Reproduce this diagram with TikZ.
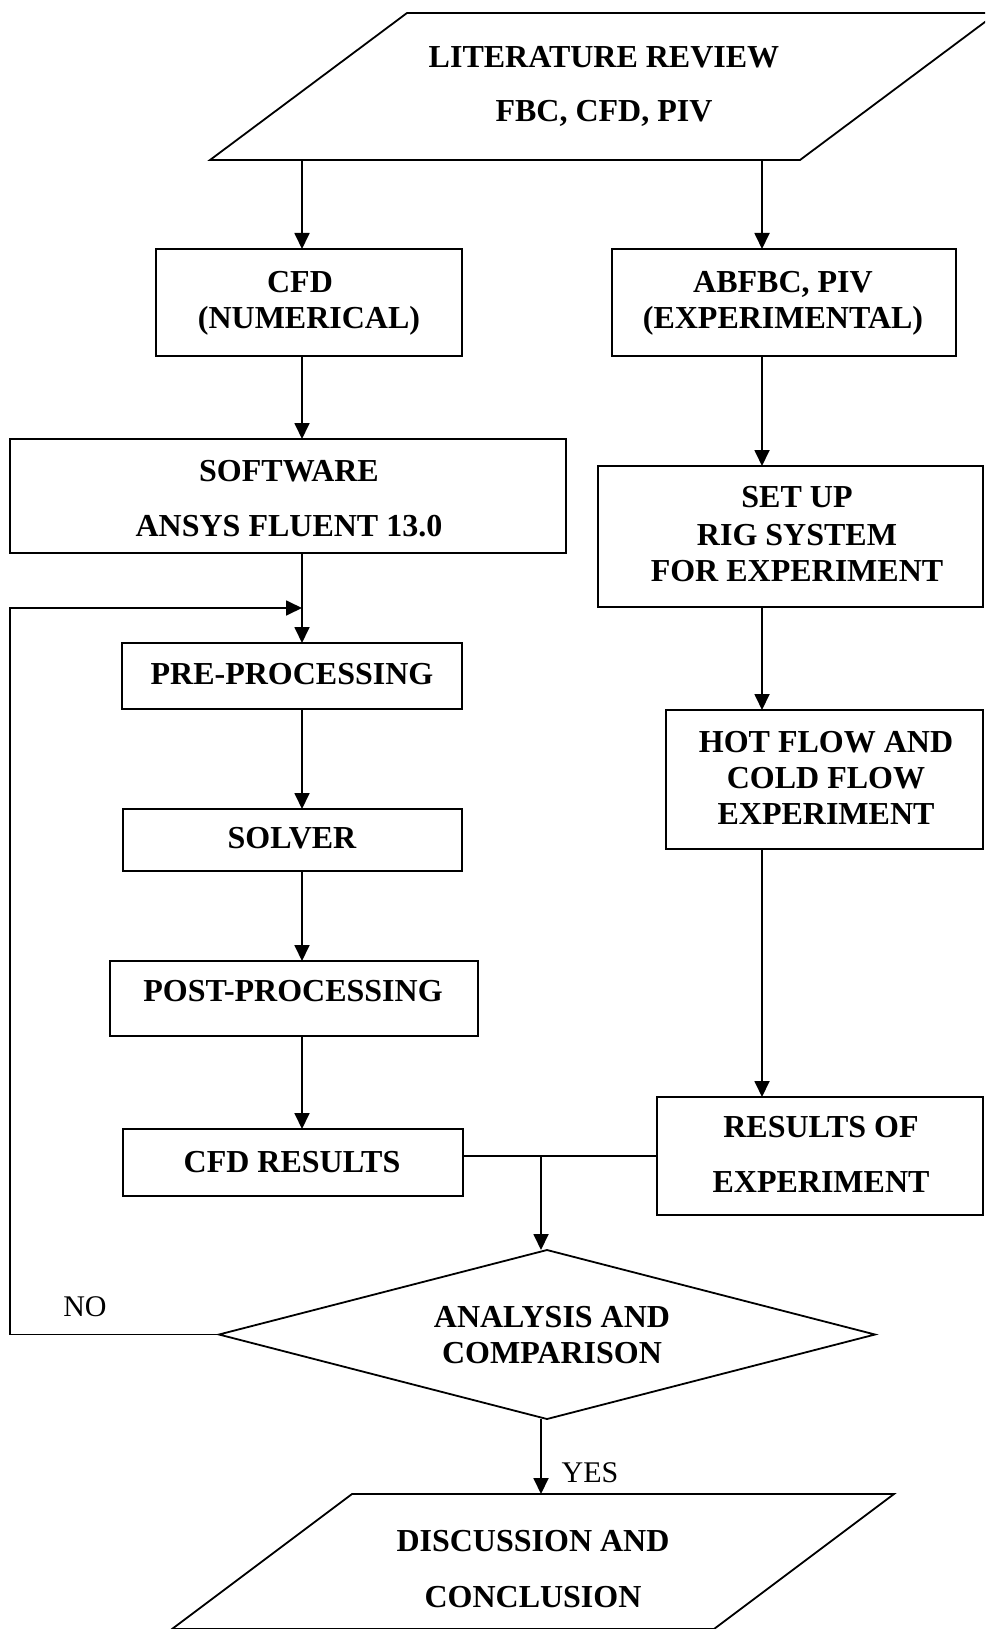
\documentclass[tikz,border=0pt]{standalone}
\usepackage{fontspec}
\setmainfont{Liberation Serif}
\usetikzlibrary{arrows.meta,shapes.geometric}
\tikzset{
  procbox/.style={draw, rectangle, line width=1.8pt, inner sep=0pt, outer sep=0pt},
  decbox/.style={draw, diamond, line width=1.8pt, inner sep=0pt, outer sep=0pt},
  lbl/.style={font=\bfseries\fontsize{32}{38}\selectfont, inner sep=0pt, anchor=base},
  plainlbl/.style={font=\fontsize{30}{36}\selectfont, inner sep=0pt, anchor=base},
  conn/.style={line width=1.8pt},
  arr/.style={conn, -{Triangle[length=16pt,width=15pt]}},
}
\begin{document}
\begin{tikzpicture}[x=1pt,y=-1pt]
\clip (0,0) rectangle (985,1629);

% input / output parallelograms
\draw[conn, line join=miter] (407,13) -- (997,13) -- (800,160) -- (210,160) -- cycle;
\draw[conn, line join=miter] (352,1494) -- (894,1494) -- (714,1629) -- (172,1629) -- cycle;
\coordinate (litL) at (302,160);
\coordinate (litR) at (762,160);
\coordinate (outTop) at (541,1494);

% process boxes
\node[procbox, minimum width=306, minimum height=107] (cfd)    at (309,302.5) {};
\node[procbox, minimum width=344, minimum height=107] (abfbc)  at (784,302.5) {};
\node[procbox, minimum width=556, minimum height=114] (soft)   at (288,496) {};
\node[procbox, minimum width=385, minimum height=141] (setup)  at (790.5,536.5) {};
\node[procbox, minimum width=340, minimum height=66]  (pre)    at (292,676) {};
\node[procbox, minimum width=339, minimum height=62]  (solver) at (292.5,840) {};
\node[procbox, minimum width=368, minimum height=75]  (post)   at (294,998.5) {};
\node[procbox, minimum width=340, minimum height=67]  (cfdres) at (293,1162.5) {};
\node[procbox, minimum width=317, minimum height=139] (hot)    at (824.5,779.5) {};
\node[procbox, minimum width=326, minimum height=118] (res)    at (820,1156) {};
\node[decbox,  minimum width=656, minimum height=169] (dia)    at (547,1334.5) {};

% labels
\node[lbl] (tlit1) at (604,68) {LITERATURE REVIEW};
\node[lbl] (tlit2) at (604,121.5) {FBC, CFD, PIV};
\node[lbl] (tcfd1) at (300,292.5) {CFD};
\node[lbl] (tcfd2) at (309,328.5) {(NUMERICAL)};
\node[lbl] (tab1) at (783,292.5) {ABFBC, PIV};
\node[lbl] (tab2) at (783,328.5) {(EXPERIMENTAL)};
\node[lbl] (tsw1) at (289,481) {SOFTWARE};
\node[lbl] (tsw2) at (289,536.5) {ANSYS FLUENT 13.0};
\node[lbl] (tsu1) at (797,507.5) {SET UP};
\node[lbl] (tsu2) at (797,545.5) {RIG SYSTEM};
\node[lbl] (tsu3) at (797,581.5) {FOR EXPERIMENT};
\node[lbl] (tpre) at (292,684) {PRE-PROCESSING};
\node[lbl] (tsol) at (292,848.5) {SOLVER};
\node[lbl] (tpost) at (293,1001.5) {POST-PROCESSING};
\node[lbl] (tcres) at (292,1172.5) {CFD RESULTS};
\node[lbl] (thot1) at (826,752.5) {HOT FLOW AND};
\node[lbl] (thot2) at (826,788.5) {COLD FLOW};
\node[lbl] (thot3) at (826,824.5) {EXPERIMENT};
\node[lbl] (tres1) at (821,1137.5) {RESULTS OF};
\node[lbl] (tres2) at (821,1192.5) {EXPERIMENT};
\node[lbl] (tdia1) at (552,1327.5) {ANALYSIS AND};
\node[lbl] (tdia2) at (552,1363.5) {COMPARISON};
\node[lbl] (tout1) at (533,1551) {DISCUSSION AND};
\node[lbl] (tout2) at (533,1607) {CONCLUSION};
\node[plainlbl] (tno) at (85,1316) {NO};
\node[plainlbl] (tyes) at (590,1482) {YES};

% connectors
\draw[arr] (litL) -- (litL |- cfd.north);
\draw[arr] (litR) -- (litR |- abfbc.north);
\draw[arr] (cfd.south -| litL) -- (soft.north -| litL);
\draw[arr] (abfbc.south -| litR) -- (setup.north -| litR);
\draw[arr] (soft.south -| litL) -- (pre.north -| litL);
\draw[arr] (setup.south -| litR) -- (hot.north -| litR);
\draw[arr] (pre.south -| litL) -- (solver.north -| litL);
\draw[arr] (solver.south -| litL) -- (post.north -| litL);
\draw[arr] (post.south -| litL) -- (cfdres.north -| litL);
\draw[arr] (hot.south -| litR) -- (res.north -| litR);

\coordinate (jn) at (541,1156);
\draw[conn] (cfdres.east |- res.west) -- (res.west);
\draw[arr] (jn) -- (jn |- dia.north);
\draw[arr] (dia.south -| outTop) -- (outTop);

% loop back for another iteration
\coordinate (fbL) at (10,608);
\coordinate (fbJ) at (302,608);
\draw[arr] (dia.west) -| (fbL) -- (fbJ);
\end{tikzpicture}
\end{document}
